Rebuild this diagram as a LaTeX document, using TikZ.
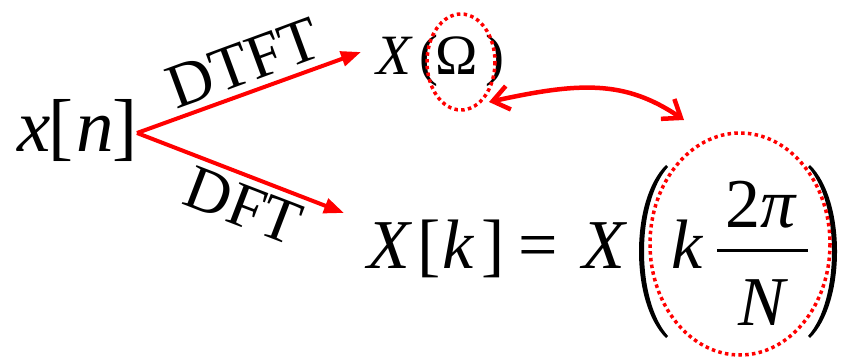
\documentclass[tikz,border=0pt]{standalone}
\usepackage{fontspec}
\setmainfont{Liberation Serif}
\usetikzlibrary{arrows.meta}
\definecolor{pred}{RGB}{255,0,0}
\begin{document}
\begin{tikzpicture}[x=1pt,y=-1pt,
  g/.style={inner sep=0pt, outer sep=0pt, anchor=base west},
  fa/.style={g, font=\fontsize{75}{80}\selectfont},
  fb/.style={g, font=\fontsize{57}{60}\selectfont},
  fc/.style={g, font=\fontsize{70}{76}\selectfont},
  lbl/.style={inner sep=0pt, outer sep=0pt, anchor=center, font=\fontsize{63}{66}\selectfont},
  redarrow/.style={draw=pred, line width=4pt, -{Triangle[length=20pt,width=15pt]}},
  dblarrow/.style={draw=pred, line width=4.5pt, {Straight Barb[length=16pt,width=24pt,line width=4.5pt]}-{Straight Barb[length=16pt,width=24pt,line width=4.5pt]}},
  dotring/.style={draw=pred, line width=3.5pt, dash pattern=on 3.5pt off 3.3pt},
  paren/.style={fill=black, draw=none}]
\useasboundingbox (0,0) rectangle (842,358);
% x[n]
\node[fa] (xx) at (17,152) {\itshape x};
\node[fa] (xlb) at (48,152) {[};
\node[fa] (xn) at (76,152) {\itshape n};
\node[fa] (xrb) at (112,152) {]};
% X(Omega)
\node[fb] (oX) at (376,75) {\itshape X};
\node[fb] (olp) at (419,75) {(};
\node[fb] (oO) at (435,75) {Ω};
\node[fb] (orp) at (485,75) {)};
% X[k] = X(k 2pi/N)
\node[fc] (kX) at (367,268) {\itshape X};
\node[fc] (klb) at (417,268) {[};
\node[fc] (kk) at (442,268) {\itshape k};
\node[fc] (krb) at (481,268) {]};
\node[fc] (keq) at (518,268) {=};
\node[fc] (kX2) at (582,268) {\itshape X};
\node[fc] (kk2) at (671,268) {\itshape k};
\node[fc, anchor=base] (k2pi) at (761,227) {2\itshape π};
\node[fc, anchor=base] (kN) at (762,325) {\itshape N};
\fill (717,248.5) rectangle (808,251.5);
% big parentheses
\fill[paren] (666,165) .. controls (630,200) and (630,303) .. (666,338)
  -- (668,336) .. controls (636,300) and (636,203) .. (668,167) -- cycle;
\fill[paren] (810,165) .. controls (846,200) and (846,303) .. (810,338)
  -- (808,336) .. controls (840,300) and (840,203) .. (808,167) -- cycle;
% labels
\node[lbl, rotate=20.2] (dtft) at (243.5,63) {DTFT};
\node[lbl, rotate=-20.9] (dft) at (243.5,206) {DFT};
% arrows
\coordinate (src) at (137,133);
\coordinate (dtftend) at (361,52);
\coordinate (dftend) at (344,213);
\draw[redarrow] (src) -- (dtftend);
\draw[redarrow] (src) -- (dftend);
% rings
\draw[dotring] (461,62) ellipse [x radius=34, y radius=48];
\draw[dotring] (740,244) ellipse [x radius=90, y radius=111];
% double arrow
\coordinate (da) at (489,102);
\coordinate (db) at (684,120);
\draw[dblarrow] (da) .. controls (580,82) and (625,80) .. (db);
\end{tikzpicture}
\end{document}
